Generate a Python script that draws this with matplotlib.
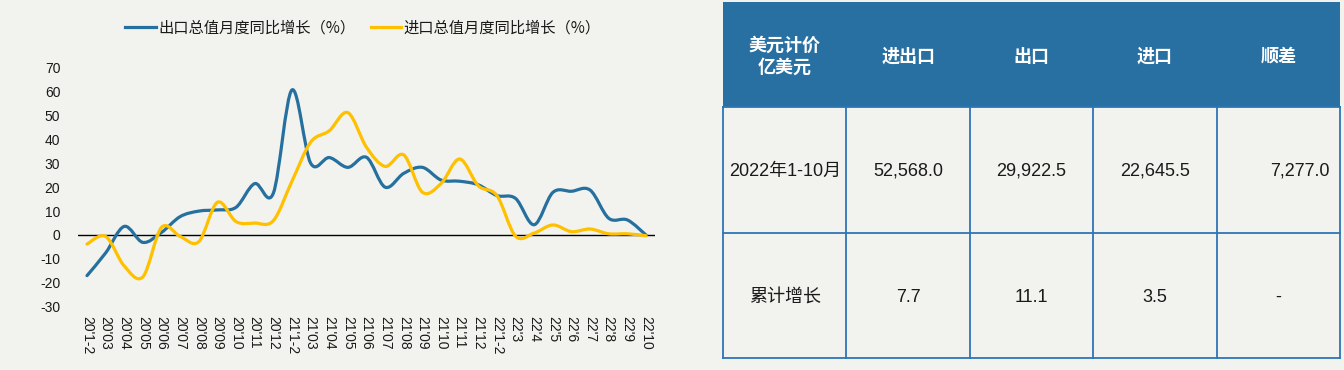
import matplotlib
matplotlib.use('Agg')
import matplotlib.pyplot as plt
from matplotlib.path import Path
from matplotlib.patches import PathPatch, Rectangle
from matplotlib.lines import Line2D

# ---------------- data ----------------
months = ["20'1-2", "20'03", "20'04", "20'05", "20'06", "20'07", "20'08", "20'09",
          "20'10", "20'11", "20'12", "21'1-2", "21'03", "21'04", "21'05", "21'06",
          "21'07", "21'08", "21'09", "21'10", "21'11", "21'12", "22'1-2", "22'3",
          "22'4", "22'5", "22'6", "22'7", "22'8", "22'9", "22'10"]
export_growth = [-17.0, -7.5, 3.6, -3.1, 1.1, 7.7, 10.0, 10.5, 11.6, 21.5, 17.5,
                 60.7, 30.1, 32.4, 28.3, 32.5, 20.0, 25.8, 28.3, 23.0, 22.5, 21.0,
                 16.5, 15.3, 4.3, 17.8, 18.3, 18.8, 7.0, 6.3, 0.0]
import_growth = [-3.8, -0.6, -13.0, -17.5, 3.2, -0.6, -2.8, 13.7, 5.6, 5.0, 6.0,
                 22.5, 38.8, 43.6, 51.2, 36.7, 28.7, 33.5, 17.9, 21.5, 31.8, 20.6,
                 16.5, -0.5, 0.8, 4.2, 1.4, 2.5, 0.5, 0.5, -0.3]
legend_labels = ['出口总值月度同比增长（%）', '进口总值月度同比增长（%）']
yticks = [-30, -20, -10, 0, 10, 20, 30, 40, 50, 60, 70]

table_header = ['美元计价\n亿美元', '进出口', '出口', '进口', '顺差']
table_rows = [['2022年1-10月', '52,568.0', '29,922.5', '22,645.5', '7,277.0'],
              ['累计增长', '7.7', '11.1', '3.5', '-']]

# ---------------- style ----------------
BG = '#F2F2EE'
BLUE = '#25709F'
GOLD = '#FFC000'
HEADER = '#2870A2'
GRID_BLUE = '#2E75B6'
TXT = '#1a1a1a'
CJK = ['Noto Sans CJK SC', 'DejaVu Sans']
LATIN = ['Liberation Sans', 'Noto Sans CJK SC', 'DejaVu Sans']

plt.rcParams['font.family'] = LATIN
plt.rcParams['axes.unicode_minus'] = False

W, H = 1344, 370
fig = plt.figure(figsize=(W / 100, H / 100), dpi=100, facecolor=BG)

ax = fig.add_axes([77.7 / W, 1 - 306.7 / H, 577.6 / W, (306.7 - 67.7) / H])
ax.set_facecolor('none')
ax.set_xlim(-0.5, len(months) - 0.5)
ax.set_ylim(yticks[0], yticks[-1])
for s in ax.spines.values():
    s.set_visible(False)
ax.set_yticks(yticks)
ax.set_xticks(range(len(months)))
ax.set_xticklabels(months, rotation=-90, ha='center', va='top')
ax.tick_params(axis='y', length=0, pad=12.5, labelsize=10, labelcolor=TXT)
ax.tick_params(axis='x', length=0, pad=7, labelsize=10, labelcolor=TXT)
ax.axhline(0, color='black', lw=1.0, zorder=1)


def smooth_path(xs, ys):
    pts = list(zip(xs, ys))
    n = len(pts)
    verts = [pts[0]]
    codes = [Path.MOVETO]
    for i in range(n - 1):
        p0 = pts[i - 1] if i > 0 else pts[i]
        p1 = pts[i]
        p2 = pts[i + 1]
        p3 = pts[i + 2] if i + 2 < n else pts[i + 1]
        c1 = (p1[0] + (p2[0] - p0[0]) / 6, p1[1] + (p2[1] - p0[1]) / 6)
        c2 = (p2[0] - (p3[0] - p1[0]) / 6, p2[1] - (p3[1] - p1[1]) / 6)
        verts += [c1, c2, p2]
        codes += [Path.CURVE4] * 3
    return Path(verts, codes)


xs = list(range(len(months)))
for series, col, z in [(export_growth, BLUE, 3), (import_growth, GOLD, 4)]:
    patch = PathPatch(smooth_path(xs, series), facecolor='none', edgecolor=col,
                      lw=2.3, capstyle='round', joinstyle='round', zorder=z)
    ax.add_patch(patch)

handles = [Line2D([], [], color=BLUE, lw=2.3), Line2D([], [], color=GOLD, lw=2.3)]
fig.legend(handles, legend_labels, loc='center', bbox_to_anchor=(0.270, 0.924),
           ncol=2, frameon=False, prop={'family': CJK, 'size': 11},
           handlelength=2.0, handletextpad=0.15, columnspacing=1.0, labelcolor=TXT)

# ---------------- table ----------------
tl, tt, tr, tb = 723, 2, 1340, 358
tax = fig.add_axes([tl / W, 1 - tb / H, (tr - tl) / W, (tb - tt) / H])
tax.set_facecolor('none')
tax.axis('off')
ncol = len(table_header)
row_edges = [0, 105, 231, 356]
tax.set_xlim(0, ncol)
tax.set_ylim(row_edges[-1], 0)

tax.add_patch(Rectangle((0, row_edges[0]), ncol, row_edges[1] - row_edges[0],
                        facecolor=HEADER, edgecolor='none', zorder=1))
for y in row_edges[1:]:
    tax.plot([0, ncol], [y, y], color=GRID_BLUE, lw=1.3, zorder=2, clip_on=False)
for xv in range(ncol + 1):
    tax.plot([xv, xv], [row_edges[1], row_edges[-1]], color=GRID_BLUE, lw=1.3,
             zorder=2, clip_on=False)

hy = (row_edges[0] + row_edges[1]) / 2 + 2
for j, h in enumerate(table_header):
    tax.text(j + 0.5, hy, h, ha='center', va='center', color='white',
             fontsize=13, fontweight='bold', family=CJK, linespacing=1.2, zorder=3)

for r, row in enumerate(table_rows):
    cy = (row_edges[r + 1] + row_edges[r + 2]) / 2 + 1.5
    for j, val in enumerate(row):
        if r == 0 and j == ncol - 1:
            tax.text(ncol - 0.085, cy, val, ha='right', va='center', color=TXT,
                     fontsize=13, family=LATIN, zorder=3)
        else:
            tax.text(j + 0.5, cy, val, ha='center', va='center', color=TXT,
                     fontsize=13, family=LATIN, zorder=3)

fig.savefig('out.png', dpi=100, facecolor=BG)
